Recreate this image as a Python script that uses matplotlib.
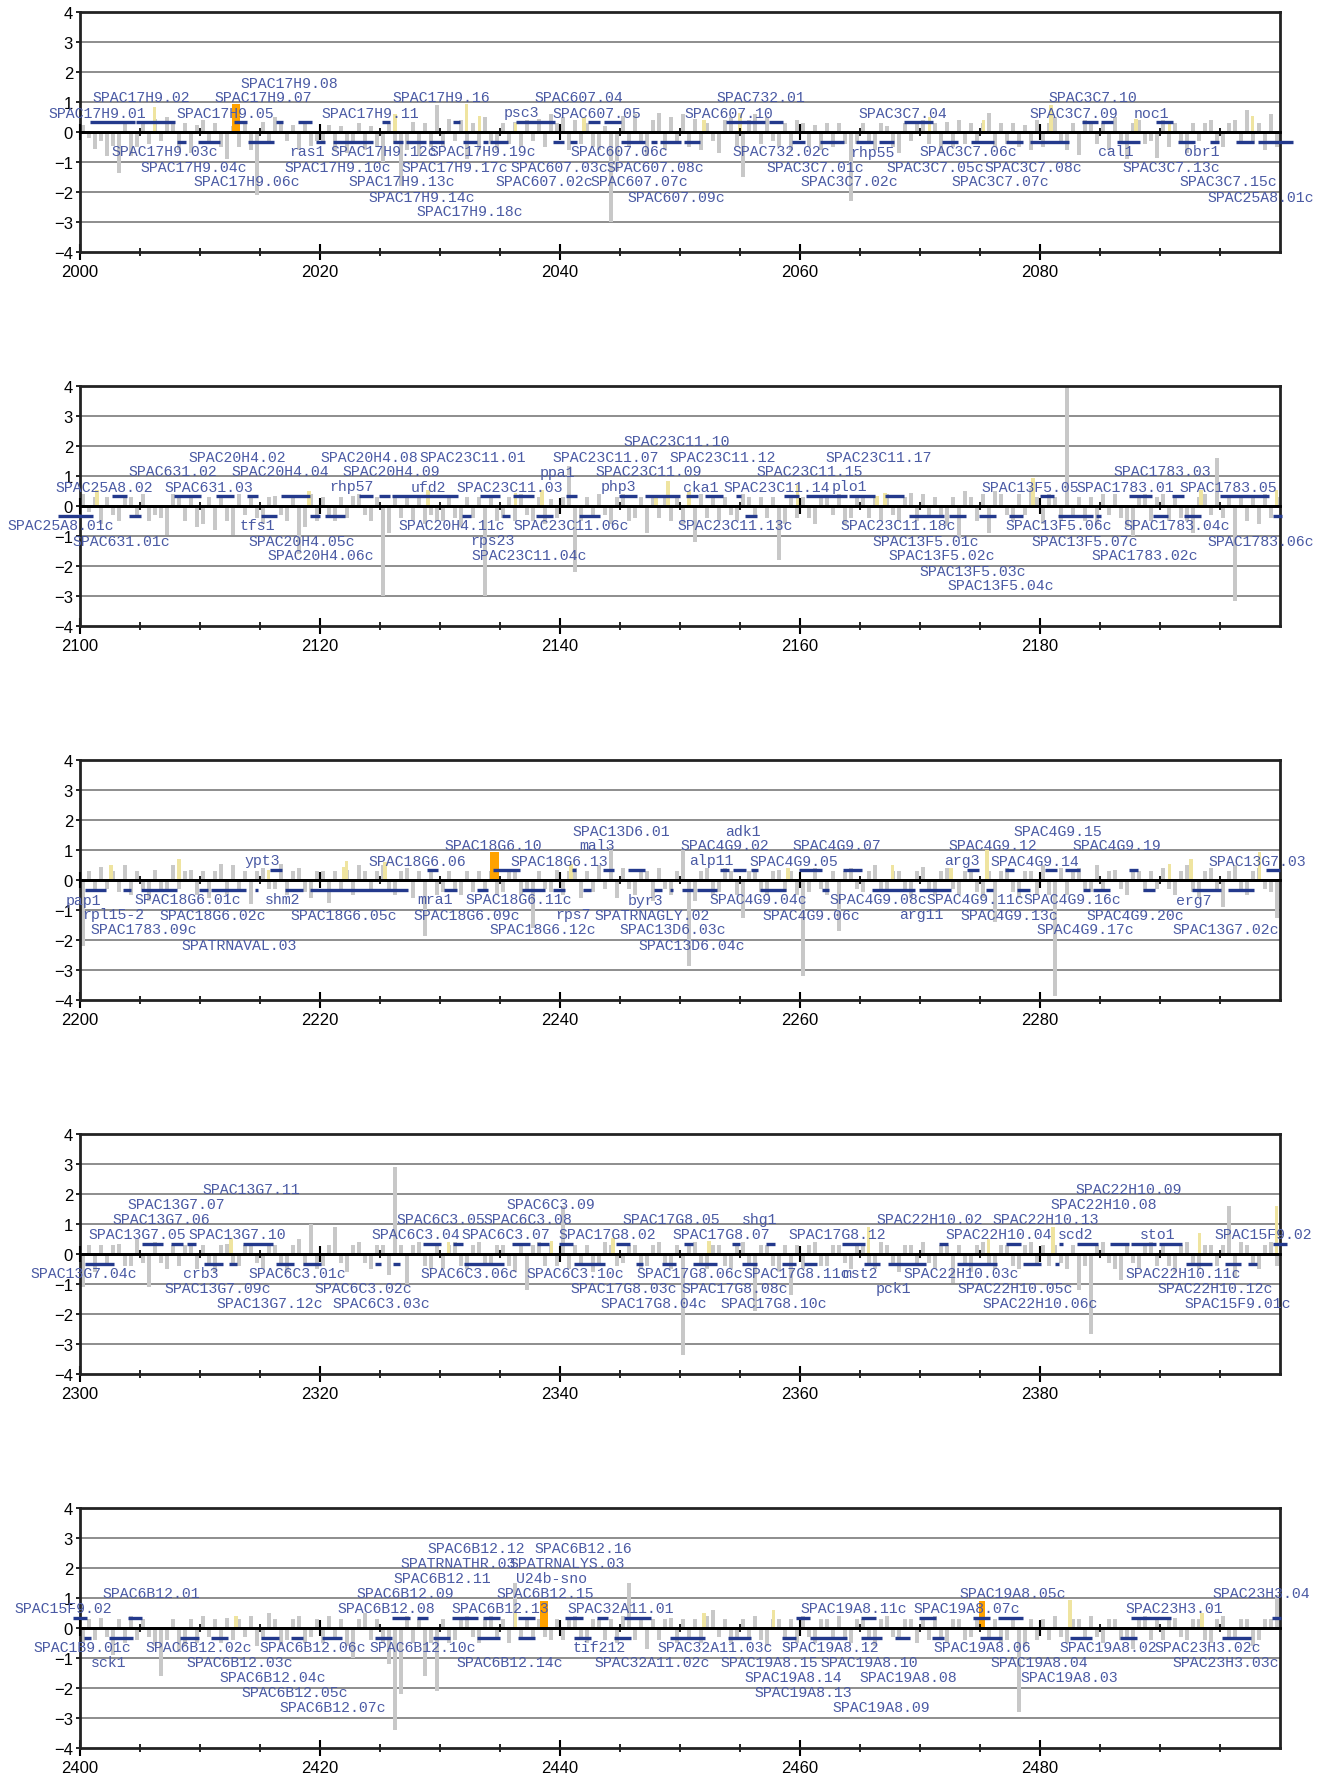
import numpy as np
import matplotlib
matplotlib.use("Agg")
import matplotlib.pyplot as plt
from matplotlib.ticker import MultipleLocator

# ---- panel 1 : 2000 - 2100 ----
p1_start = 2000
p1_signal = [
    0.25, -0.2, -0.55, -0.3, -0.8, -0.45, -1.35, 0.3, -0.8, -0.5, 0.35, -0.4, 0.45, -0.3, 0.5, 0.3, -0.6, 0.3, -0.7, 0.25,
    0.4, -0.35, 0.3, -0.5, -0.9, 0.2, -0.5, 0.3, -0.6, -2.1, 0.35, -0.4, 0.5, 0.3, -0.3, 0.25, -0.6, 0.3, -0.45, -0.3,
    -0.3, 0.25, -0.6, 0.2, -0.7, -0.4, 0.3, -0.6, 0.2, -0.5, -1.0, 0.3, -0.4, -1.8, -0.6, 0.35, -0.8, 0.3, -0.5, 0.9,
    -0.5, 0.45, -0.3, 0.4, -0.9, 0.3, -0.6, 0.5, -0.4, -0.6, 0.3, -0.4, 0.35, -0.5, 0.4, -0.3, 0.45, -0.5, 0.6, 0.3,
    0.5, -0.6, 0.4, -0.4, 0.3, -0.5, -0.6, 0.2, -3.0, -1.3, 0.55, -0.5, 0.6, -0.4, -0.8, 0.4, 0.65, -0.6, 0.5, -0.4,
    0.6, -0.5, 0.45, -0.6, 0.3, -0.3, -0.7, 0.4, 0.5, -0.5, -1.5, 0.4, 0.6, -0.4, 0.5, -0.3, -0.5, 0.3, -0.6, 0.4,
    0.3, -0.5, 0.25, -0.6, 0.3, -0.5, 0.3, -0.4, -2.3, -0.4, 0.3, -0.3, -0.6, 0.3, 0.2, -0.5, -0.7, 0.3, -0.3, 0.35,
    0.4, -0.4, 0.3, -0.7, 0.35, -0.5, 0.4, -0.4, 0.3, -0.3, 0.3, 0.65, -0.5, 0.3, -0.4, 0.3, -0.5, 0.25, -0.6, 0.4,
    -0.5, 0.3, 0.5, -0.4, -0.6, 0.3, -0.75, 0.4, 0.35, -0.4, 0.3, -0.6, 0.5, -0.3, -0.9, 0.3, 0.4, -0.4, -0.3, -0.85,
    0.4, -0.5, 0.3, -0.4, -0.7, 0.3, -0.3, 0.3, 0.4, -0.4, -0.5, 0.3, 0.4, -0.3, 0.75, -0.4, 0.3, -0.6, 0.6, -0.5,
]
p1_yellow_x = [2006.2, 2026.25, 2032.2, 2033.3, 2036.3, 2042.0, 2052.0, 2055.0, 2070.8, 2075.3, 2080.9, 2088.0, 2090.8, 2097.7]
p1_yellow_h = [0.85, 0.6, 0.95, 0.55, 0.3, 0.5, 0.4, 0.65, 0.5, 0.4, 0.9, 0.45, 0.35, 0.55]
p1_orange = [(2012.7, 2013.3, 0.95)]
p1_fwd = [(2000.8, 2004.6), (2004.7, 2007.9), (2012.8, 2013.9), (2016.3, 2016.9), (2018.2, 2019.3),
          (2025.2, 2025.8), (2031.1, 2031.7), (2036.3, 2039.6), (2042.3, 2043.3), (2043.7, 2045.1),
          (2053.8, 2057.1), (2057.4, 2058.6), (2068.7, 2071.1), (2083.5, 2084.8), (2085.1, 2086.1),
          (2089.7, 2091.1)]
p1_rev = [(2008.1, 2008.8), (2009.8, 2011.7), (2014.0, 2016.2), (2019.7, 2020.4), (2021.1, 2024.4),
          (2026.1, 2026.9), (2027.2, 2028.8), (2029.1, 2030.3), (2031.9, 2033.1), (2033.6, 2034.0),
          (2034.2, 2035.7), (2039.4, 2040.3), (2040.8, 2041.4), (2045.1, 2047.1), (2047.6, 2048.1),
          (2048.3, 2050.1), (2050.3, 2051.7), (2059.3, 2060.4), (2061.7, 2063.7), (2064.7, 2066.1),
          (2066.6, 2067.8), (2071.8, 2073.2), (2074.25, 2076.2), (2077.2, 2078.6), (2079.2, 2082.4),
          (2086.4, 2088.3), (2091.5, 2092.9), (2094.2, 2094.9), (2096.3, 2097.8), (2098.2, 2101.1)]
p1_labels = [
    ("SPAC17H9.01", 2001.4, 1), ("SPAC17H9.02", 2005.1, 2), ("SPAC17H9.05", 2012.1, 1),
    ("SPAC17H9.07", 2015.3, 2), ("SPAC17H9.08", 2017.4, 3), ("SPAC17H9.11", 2024.2, 1),
    ("SPAC17H9.16", 2030.1, 2), ("psc3", 2036.8, 1), ("SPAC607.04", 2041.6, 2),
    ("SPAC607.05", 2043.1, 1), ("SPAC607.10", 2054.1, 1), ("SPAC732.01", 2056.7, 2),
    ("SPAC3C7.04", 2068.6, 1), ("SPAC3C7.09", 2082.8, 1), ("SPAC3C7.10", 2084.4, 2),
    ("noc1", 2089.3, 1),
    ("SPAC17H9.03c", 2007.1, -1), ("SPAC17H9.04c", 2009.5, -2), ("SPAC17H9.06c", 2013.9, -3),
    ("ras1", 2018.9, -1), ("SPAC17H9.12c", 2025.3, -1), ("SPAC17H9.10c", 2021.5, -2),
    ("SPAC17H9.13c", 2026.8, -3), ("SPAC17H9.14c", 2028.5, -4), ("SPAC17H9.18c", 2032.5, -5),
    ("SPAC17H9.17c", 2031.25, -2), ("SPAC17H9.19c", 2033.6, -1), ("SPAC607.03c", 2039.9, -2),
    ("SPAC607.02c", 2038.7, -3), ("SPAC607.06c", 2044.9, -1), ("SPAC607.08c", 2047.9, -2),
    ("SPAC607.07c", 2046.6, -3), ("SPAC607.09c", 2049.7, -4), ("SPAC732.02c", 2058.4, -1),
    ("SPAC3C7.01c", 2061.3, -2), ("SPAC3C7.02c", 2064.1, -3), ("rhp55", 2066.0, -1),
    ("SPAC3C7.06c", 2074.0, -1), ("SPAC3C7.05c", 2071.25, -2), ("SPAC3C7.08c", 2079.4, -2),
    ("SPAC3C7.07c", 2076.7, -3), ("cal1", 2086.3, -1), ("SPAC3C7.13c", 2090.9, -2),
    ("obr1", 2093.5, -1), ("SPAC3C7.15c", 2095.7, -3), ("SPAC25A8.01c", 2098.4, -4),
]

# ---- panel 2 : 2100 - 2200 ----
p2_start = 2100
p2_signal = [
    0.4, -0.2, 0.3, -0.6, 0.3, -0.3, -0.5, 0.35, 0.3, -0.4, 0.4, -0.5, -0.3, -0.4, -0.95, 0.4, 0.3, -0.5, 0.3, -0.7,
    -0.6, 0.3, -0.8, 0.3, -0.5, -0.95, 0.4, -0.3, 0.3, -0.4, -0.6, 0.3, 0.35, -0.3, -0.5, 0.3, -1.6, -0.7, 0.4, -0.5,
    0.3, -0.4, -0.5, 0.3, -0.4, 0.35, 0.4, -0.3, -0.5, 0.3, -3.0, -0.9, 0.3, -0.4, 0.35, -0.5, 0.3, -0.6, -0.3, -0.5,
    -0.5, 0.3, -0.4, -0.7, 0.3, -0.4, 0.3, -3.0, 0.3, -0.5, -0.4, 0.3, -0.5, 0.4, -0.3, -0.5, 0.3, -0.6, 0.25, -0.4,
    0.3, 1.35, -2.2, -0.5, 0.3, -0.4, 0.4, -0.3, -0.6, 0.3, 0.4, -0.5, -0.4, 0.3, -0.9, 0.3, -0.4, 0.3, -0.5, 0.3,
    -0.6, 0.3, -1.2, 0.4, -0.4, 0.3, -0.5, 0.3, -0.3, -0.5, 0.4, 0.3, -0.4, 0.3, -0.4, 0.3, -1.8, -0.6, 0.3, -0.4,
    0.3, -0.4, -0.6, 0.3, 0.3, -0.3, 0.4, -0.6, -0.4, 0.3, 0.35, -0.4, 0.3, -0.5, 0.4, -0.3, -0.5, 0.3, 0.45, -0.5,
    0.4, -0.4, 0.3, -0.4, -0.65, 0.3, -1.05, 0.5, 0.3, -0.5, 0.4, -0.9, 0.5, 0.4, -0.3, -0.5, 0.4, -0.3, 0.6, 0.3,
    -0.6, 0.4, 0.3, -0.5, 4.1, -0.4, 0.3, -0.5, 0.3, -0.6, 0.4, -0.3, 0.4, -0.4, -0.7, -1.0, 0.3, 0.4, -0.5, 0.3,
    0.4, -0.5, 0.3, -0.4, -0.5, -0.9, 0.3, 0.4, -0.3, 1.6, -0.4, 0.3, -3.15, 0.3, -0.5, 0.3, -0.6, 0.4, -0.4, 0.3,
]
p2_yellow_x = [2101.4, 2119.1, 2129.0, 2136.3, 2138.5, 2148.0, 2149.0, 2150.75, 2159.8, 2166.4, 2167.1, 2179.4, 2193.4, 2199.7]
p2_yellow_h = [0.55, 0.5, 0.55, 0.45, 0.55, 0.35, 0.85, 0.5, 0.7, 0.35, 0.45, 0.95, 0.55, 0.55]
p2_orange = []
p2_fwd = [(2102.7, 2103.9), (2107.8, 2110.1), (2111.3, 2112.8), (2113.9, 2114.8), (2116.75, 2119.2),
          (2123.25, 2124.4), (2124.9, 2125.8), (2126.0, 2131.5), (2133.3, 2135.0), (2136.1, 2137.8),
          (2140.5, 2141.4), (2144.9, 2146.4), (2147.1, 2150.0), (2150.5, 2151.5), (2152.1, 2153.6),
          (2154.7, 2155.1), (2158.7, 2159.9), (2160.5, 2163.9), (2164.1, 2166.25), (2167.1, 2168.7),
          (2180.0, 2181.2), (2187.4, 2189.3), (2191.0, 2192.0), (2195.0, 2199.1)]
p2_rev = [(2098.2, 2101.05), (2104.1, 2105.1), (2115.1, 2116.4), (2119.2, 2120.0), (2120.4, 2122.1),
          (2131.8, 2132.6), (2135.2, 2135.8), (2138.0, 2139.45), (2141.6, 2143.3), (2155.4, 2156.4),
          (2169.1, 2172.0), (2172.4, 2173.8), (2174.9, 2176.3), (2177.4, 2178.6), (2181.5, 2184.4),
          (2184.7, 2185.1), (2189.4, 2190.7), (2192.0, 2193.4), (2199.4, 2200.2)]
p2_labels = [
    ("SPAC25A8.02", 2102.0, 1), ("SPAC631.02", 2107.7, 2), ("SPAC631.03", 2110.75, 1),
    ("SPAC20H4.02", 2113.1, 3), ("SPAC20H4.04", 2116.7, 2), ("rhp57", 2122.6, 1),
    ("SPAC20H4.08", 2124.1, 3), ("SPAC20H4.09", 2125.9, 2), ("ufd2", 2129.0, 1),
    ("SPAC23C11.01", 2132.7, 3), ("SPAC23C11.03", 2135.8, 1), ("ppa1", 2139.8, 2),
    ("SPAC23C11.07", 2143.8, 3), ("php3", 2144.9, 1), ("SPAC23C11.09", 2147.4, 2),
    ("SPAC23C11.10", 2149.75, 4), ("cka1", 2151.75, 1), ("SPAC23C11.12", 2153.6, 3),
    ("SPAC23C11.14", 2158.1, 1), ("SPAC23C11.15", 2160.8, 2), ("plo1", 2164.1, 1),
    ("SPAC23C11.17", 2166.6, 3), ("SPAC13F5.05", 2179.2, 1), ("SPAC1783.01", 2187.1, 1),
    ("SPAC1783.03", 2190.2, 2), ("SPAC1783.05", 2195.7, 1),
    ("SPAC25A8.01c", 2098.4, -1), ("SPAC631.01c", 2103.4, -2), ("tfs1", 2114.75, -1),
    ("SPAC20H4.05c", 2118.5, -2), ("SPAC20H4.06c", 2120.1, -3), ("SPAC20H4.11c", 2131.0, -1),
    ("rps23", 2134.4, -2), ("SPAC23C11.04c", 2137.4, -3), ("SPAC23C11.06c", 2140.9, -1),
    ("SPAC23C11.13c", 2154.6, -1), ("SPAC23C11.18c", 2168.2, -1), ("SPAC13F5.01c", 2170.5, -2),
    ("SPAC13F5.02c", 2171.8, -3), ("SPAC13F5.03c", 2174.4, -4), ("SPAC13F5.04c", 2176.7, -5),
    ("SPAC13F5.06c", 2181.6, -1), ("SPAC13F5.07c", 2183.75, -2), ("SPAC1783.02c", 2188.75, -3),
    ("SPAC1783.04c", 2191.4, -1), ("SPAC1783.06c", 2198.4, -2),
]

# ---- panel 3 : 2200 - 2300 ----
p3_start = 2200
p3_signal = [
    -2.2, 0.3, -0.4, 0.45, -0.3, 0.3, -0.4, 0.5, -0.5, 0.3, -0.3, -0.7, 0.35, -0.4, -0.4, 0.5, -0.3, 0.3, 0.35, -0.5,
    0.3, -0.6, 0.3, 0.55, -0.5, 0.5, -0.4, 0.3, -0.8, 0.3, 0.4, -0.3, -0.3, 0.55, -0.5, 0.3, 0.4, -0.4, -0.6, 0.3,
    0.3, -0.75, 0.3, -0.4, 0.35, -0.5, 0.5, 0.3, -0.4, 0.3, 0.5, -0.3, -0.5, 0.3, 0.4, -0.6, 0.3, -1.85, 0.3, -0.5,
    -0.4, 0.3, -0.3, -0.5, 0.3, -0.4, 0.3, -0.3, 0.3, -0.5, -0.4, 0.3, 0.3, -0.5, -0.3, -1.6, 0.3, -0.3, -0.4, 0.35,
    -0.5, 0.3, 0.4, -0.6, 0.3, -0.4, 0.5, -0.3, 1.1, -0.6, 0.4, -0.3, -0.5, 0.3, 0.3, -0.7, 0.4, -0.3, -0.5, 0.3,
    1.0, -2.85, -0.7, 0.3, 0.4, -0.5, -0.4, 0.4, 0.3, -0.5, -1.25, 0.3, 0.3, -0.4, -0.5, 0.3, 0.35, -0.4, 0.3, -0.5,
    -3.2, -0.4, 0.4, -0.3, -0.5, 0.3, -1.7, 0.3, 0.4, -0.3, -0.4, 0.3, 0.5, -0.3, -0.4, 0.3, 0.3, -0.4, -0.6, 0.3,
    0.45, -0.4, -0.5, 0.3, 0.4, -0.3, -0.5, 0.3, 0.3, -0.4, -0.6, 0.3, -1.4, 0.3, 0.4, -0.4, -0.6, 0.3, 0.3, -0.5,
    0.5, -0.5, -3.85, 0.4, -0.5, 0.3, 0.4, -0.3, -0.4, 0.5, -0.4, 0.3, 0.35, -0.3, -0.5, 0.3, 0.3, -0.4, 0.3, -0.3,
    0.4, -0.3, -0.5, 0.3, 0.5, -0.4, -0.6, 0.3, 0.4, -0.3, -0.9, 0.3, 0.5, -0.4, -0.5, 0.3, 0.4, -0.3, -0.4, -1.25,
]
p3_yellow_x = [2202.6, 2208.25, 2215.7, 2222.0, 2222.2, 2225.4, 2240.9, 2259.0, 2267.7, 2272.6, 2275.6, 2290.8, 2292.6, 2298.3]
p3_yellow_h = [0.5, 0.7, 0.35, 0.45, 0.65, 0.6, 0.55, 0.4, 0.5, 0.4, 1.0, 0.55, 0.7, 0.95]
p3_orange = [(2234.2, 2234.9, 0.95)]
p3_fwd = [(2215.8, 2216.8), (2228.9, 2229.8), (2234.45, 2236.7), (2241.0, 2241.3), (2243.55, 2244.5),
          (2245.7, 2247.1), (2253.3, 2254.1), (2254.4, 2255.5), (2255.9, 2256.5), (2259.9, 2261.8),
          (2263.6, 2265.2), (2273.9, 2274.9), (2277.1, 2277.8), (2280.4, 2281.4), (2282.1, 2283.3),
          (2287.4, 2288.2), (2298.8, 2300.0)]
p3_rev = [(2200.4, 2202.2), (2203.6, 2204.25), (2205.1, 2208.05), (2209.9, 2210.7), (2210.9, 2213.8),
          (2214.6, 2214.8), (2217.1, 2218.55), (2219.2, 2227.3), (2230.3, 2231.4), (2233.05, 2234.0),
          (2236.8, 2238.75), (2239.45, 2240.4), (2241.9, 2242.6), (2247.8, 2248.5), (2249.2, 2249.4),
          (2250.2, 2251.1), (2251.45, 2253.1), (2256.7, 2258.8), (2261.8, 2262.4), (2266.0, 2269.6),
          (2269.9, 2272.6), (2275.5, 2276.1), (2278.05, 2279.2), (2283.55, 2284.2), (2284.4, 2285.8),
          (2288.6, 2289.6), (2292.7, 2295.05), (2295.7, 2297.8)]
p3_labels = [
    ("ypt3", 2215.2, 1), ("SPAC18G6.06", 2228.1, 1), ("SPAC18G6.10", 2234.4, 2),
    ("SPAC18G6.13", 2239.9, 1), ("mal3", 2243.1, 2), ("SPAC13D6.01", 2245.1, 3),
    ("alp11", 2252.6, 1), ("SPAC4G9.02", 2253.75, 2), ("adk1", 2255.2, 3),
    ("SPAC4G9.05", 2259.5, 1), ("SPAC4G9.07", 2263.1, 2), ("arg3", 2273.5, 1),
    ("SPAC4G9.12", 2276.1, 2), ("SPAC4G9.14", 2279.6, 1), ("SPAC4G9.15", 2281.5, 3),
    ("SPAC4G9.19", 2286.4, 2), ("SPAC13G7.03", 2298.1, 1),
    ("pap1", 2200.3, -1), ("rpl15-2", 2202.8, -2), ("SPAC1783.09c", 2205.3, -3),
    ("SPAC18G6.01c", 2209.0, -1), ("SPAC18G6.02c", 2211.1, -2), ("SPATRNAVAL.03", 2213.3, -4),
    ("shm2", 2216.9, -1), ("SPAC18G6.05c", 2222.0, -2), ("mra1", 2229.6, -1),
    ("SPAC18G6.09c", 2232.2, -2), ("SPAC18G6.11c", 2236.6, -1), ("SPAC18G6.12c", 2238.6, -3),
    ("rps7", 2241.1, -2), ("byr3", 2247.1, -1), ("SPATRNAGLY.02", 2247.7, -2),
    ("SPAC13D6.03c", 2249.4, -3), ("SPAC13D6.04c", 2251.0, -4), ("SPAC4G9.04c", 2256.5, -1),
    ("SPAC4G9.06c", 2260.9, -2), ("SPAC4G9.08c", 2266.5, -1), ("arg11", 2270.1, -2),
    ("SPAC4G9.11c", 2274.6, -1), ("SPAC4G9.13c", 2277.4, -2), ("SPAC4G9.16c", 2282.7, -1),
    ("SPAC4G9.17c", 2283.8, -3), ("SPAC4G9.20c", 2287.9, -2), ("erg7", 2292.8, -1),
    ("SPAC13G7.02c", 2295.5, -3),
]

# ---- panel 4 : 2300 - 2400 ----
p4_start = 2300
p4_signal = [
    -1.1, 0.3, -0.6, 0.3, -0.3, 0.3, 0.35, -0.4, -0.4, 0.5, -0.3, -1.1, 0.4, -0.3, -0.5, 0.3, -0.4, 0.3, 0.3, -0.5,
    0.3, -0.4, -0.6, 0.3, 0.35, -0.3, -0.4, 0.3, 0.3, -0.3, -0.5, 0.3, 0.3, -0.4, -0.6, 0.3, 0.5, -0.4, 1.0, -0.5,
    -0.4, 0.3, 0.9, -0.3, -0.6, 0.3, 0.4, -0.3, -0.5, 0.3, 0.3, -0.7, 2.9, 0.3, -1.0, 0.3, 0.4, -0.4, -0.5, 0.3,
    -0.5, 0.3, 0.4, -0.4, -0.5, 0.3, 0.4, -0.3, -0.4, 0.3, 0.3, -0.4, -0.6, 0.3, -1.2, 0.3, 0.4, -0.4, 0.3, -0.4,
    1.6, -0.5, 0.3, -0.3, 0.3, -0.6, -0.4, 0.4, 0.3, -0.4, -0.3, 0.3, 0.3, -0.5, -0.4, 0.3, 0.4, -0.3, -0.5, 0.3,
    -3.35, 0.3, 0.4, -0.4, -0.5, 0.3, 0.3, -0.4, -0.5, 0.3, 0.4, -0.3, -1.9, 0.3, 0.3, -0.4, -0.6, 0.3, -1.35, 0.3,
    -0.5, 0.3, 0.4, -0.4, -0.4, 0.3, 0.3, -0.3, -0.5, 0.3, 0.3, -0.4, -0.5, 0.4, 0.3, -0.4, -0.6, 0.3, 0.3, -0.4,
    0.4, -0.3, -0.5, 0.3, 0.3, -0.95, 0.3, -0.4, -0.6, 0.3, 0.4, -0.3, -0.5, 0.3, 0.3, -0.4, -0.5, 0.3, 0.4, -0.4,
    0.3, -0.4, 0.3, -0.3, -0.5, 0.3, -1.2, -0.4, -2.65, 0.3, 0.4, -0.3, -0.5, -0.85, 0.3, -0.3, -0.5, 0.3, 0.4, -0.4,
    0.3, -0.4, -0.6, 0.3, 0.4, -0.3, -0.5, 0.3, 0.3, -0.4, 0.3, 1.6, -0.8, 0.4, 0.3, -0.4, -0.5, 0.3, 0.4, -0.4,
]
p4_yellow_x = [2312.6, 2330.7, 2339.3, 2344.4, 2352.4, 2365.7, 2375.7, 2381.1, 2393.3, 2399.7]
p4_yellow_h = [0.55, 0.4, 0.45, 0.55, 0.45, 0.9, 0.5, 0.9, 0.7, 1.6]
p4_orange = []
p4_fwd = [(2305.2, 2306.9), (2307.6, 2308.55), (2308.95, 2309.7), (2313.6, 2316.1), (2328.6, 2330.1),
          (2331.05, 2331.9), (2336.0, 2337.5), (2338.1, 2339.1), (2339.9, 2341.1), (2344.7, 2345.8),
          (2350.3, 2351.1), (2354.3, 2355.0), (2357.2, 2357.9), (2363.5, 2365.4), (2371.6, 2372.3),
          (2377.2, 2378.4), (2381.6, 2381.9), (2383.1, 2384.8), (2385.8, 2387.4), (2387.6, 2389.7),
          (2389.9, 2391.8), (2399.4, 2400.6)]
p4_rev = [(2300.4, 2302.8), (2310.3, 2311.9), (2312.4, 2313.05), (2316.3, 2317.8), (2318.55, 2320.1),
          (2324.6, 2325.1), (2326.1, 2326.7), (2332.0, 2335.3), (2341.2, 2343.75), (2346.3, 2346.9),
          (2348.5, 2349.7), (2351.1, 2353.1), (2355.2, 2356.4), (2358.5, 2359.7), (2360.3, 2361.45),
          (2365.3, 2366.7), (2367.3, 2370.5), (2373.05, 2376.4), (2378.6, 2380.1), (2381.25, 2381.6),
          (2392.2, 2394.3), (2395.4, 2396.75), (2397.3, 2398.1)]
p4_labels = [
    ("SPAC13G7.05", 2304.8, 1), ("SPAC13G7.06", 2306.8, 2), ("SPAC13G7.07", 2308.0, 3),
    ("SPAC13G7.10", 2313.1, 1), ("SPAC13G7.11", 2314.3, 4), ("SPAC6C3.04", 2328.0, 1),
    ("SPAC6C3.05", 2330.1, 2), ("SPAC6C3.07", 2335.5, 1), ("SPAC6C3.08", 2337.3, 2),
    ("SPAC6C3.09", 2339.2, 3), ("SPAC17G8.02", 2343.9, 1), ("SPAC17G8.05", 2349.3, 2),
    ("SPAC17G8.07", 2353.4, 1), ("shg1", 2356.6, 2), ("SPAC17G8.12", 2363.1, 1),
    ("SPAC22H10.02", 2370.8, 2), ("SPAC22H10.04", 2376.6, 1), ("SPAC22H10.13", 2380.5, 2),
    ("scd2", 2383.0, 1), ("SPAC22H10.08", 2385.3, 3), ("SPAC22H10.09", 2387.4, 4),
    ("sto1", 2389.8, 1), ("SPAC15F9.02", 2398.6, 1),
    ("SPAC13G7.04c", 2300.3, -1), ("crb3", 2310.1, -1), ("SPAC13G7.09c", 2311.5, -2),
    ("SPAC13G7.12c", 2315.8, -3), ("SPAC6C3.01c", 2318.1, -1), ("SPAC6C3.02c", 2323.6, -2),
    ("SPAC6C3.03c", 2325.1, -3), ("SPAC6C3.06c", 2332.4, -1), ("SPAC6C3.10c", 2341.25, -1),
    ("SPAC17G8.03c", 2345.3, -2), ("SPAC17G8.04c", 2347.8, -3), ("SPAC17G8.06c", 2350.8, -1),
    ("SPAC17G8.08c", 2354.6, -2), ("SPAC17G8.10c", 2357.8, -3), ("SPAC17G8.11c", 2359.7, -1),
    ("mst2", 2365.0, -1), ("pck1", 2367.8, -2), ("SPAC22H10.03c", 2373.4, -1),
    ("SPAC22H10.05c", 2377.9, -2), ("SPAC22H10.06c", 2380.0, -3), ("SPAC22H10.11c", 2391.9, -1),
    ("SPAC22H10.12c", 2394.6, -2), ("SPAC15F9.01c", 2396.5, -3),
]

# ---- panel 5 : 2400 - 2500 ----
p5_start = 2400
p5_signal = [
    -0.5, 0.3, -0.4, 0.35, -0.3, -0.9, 0.3, -0.5, 0.4, -0.4, 0.3, -0.3, -0.6, -1.6, -0.4, 0.3, -0.8, -0.6, 0.3, -0.5,
    0.4, -0.3, 0.3, -0.5, 0.35, -0.4, 0.3, -0.3, 0.4, -0.6, -0.4, 0.5, 0.3, -0.6, -0.4, 0.3, 0.4, -0.5, -0.3, 0.3,
    -0.5, 0.4, -0.4, 0.3, -0.6, -1.0, 0.3, 0.5, -0.4, 0.3, -0.5, -1.2, -3.4, -2.2, 0.4, -0.5, 0.3, -1.6, -0.5, -2.1,
    0.3, -0.5, -0.4, 0.3, 0.4, -0.3, -0.5, 0.3, 0.4, -0.4, 0.3, -0.5, 1.5, -0.3, 0.3, -0.4, 0.3, -0.3, -0.4, 0.3,
    -0.4, 0.3, 0.4, -0.3, -0.5, 0.3, 0.3, -0.4, 0.3, -0.5, 0.4, 1.5, -0.4, 0.3, -0.7, 0.3, -0.4, 0.3, 0.35, -0.5,
    0.3, -0.4, 0.3, -0.5, 0.4, 0.6, -0.3, 0.3, -0.5, -0.4, 0.3, -0.3, 0.4, -0.4, -0.6, 0.3, 0.3, -0.4, 0.3, -0.5,
    0.4, -0.3, -0.5, 0.3, 0.3, -0.4, 0.4, -0.3, -0.5, 0.3, 0.3, -0.4, -0.6, 0.3, 0.4, -0.3, -0.4, 0.3, 0.3, -0.5,
    0.3, -0.4, 0.4, -0.3, -0.5, 0.3, 0.3, -0.4, -0.3, 0.3, 0.5, -0.4, 0.3, -0.5, -0.4, 0.3, -2.8, -0.6, 0.3, -0.4,
    0.3, -0.4, 0.4, -0.3, -0.5, 0.3, 0.3, -0.4, 0.4, -0.3, -0.5, 0.3, 0.3, -0.4, -0.3, -0.7, 0.3, 0.4, -0.4, 0.3,
    -0.4, 0.3, 0.35, -0.3, -0.4, 0.3, 0.3, -0.4, -0.5, 0.3, 0.4, -0.3, -0.3, 0.3, 0.3, -0.6, -0.4, 0.3, 0.3, 1.1,
]
p5_yellow_x = [2413.0, 2436.3, 2452.0, 2457.8, 2482.5, 2493.5]
p5_yellow_h = [0.4, 0.5, 0.5, 0.6, 0.95, 0.5]
p5_orange = [(2438.3, 2439.0, 0.9), (2474.9, 2475.4, 0.9)]
p5_fwd = [(2399.4, 2400.6), (2404.0, 2405.2), (2426.0, 2427.5), (2428.1, 2429.0), (2431.0, 2433.2),
          (2433.6, 2435.0), (2436.5, 2437.9), (2440.4, 2441.9), (2443.1, 2444.0), (2445.3, 2447.6),
          (2459.7, 2460.8), (2465.1, 2466.3), (2469.9, 2471.3), (2474.4, 2475.8), (2476.5, 2478.6),
          (2487.6, 2490.9), (2499.3, 2500.1)]
p5_rev = [(2400.35, 2400.9), (2402.4, 2404.4), (2408.3, 2409.9), (2410.9, 2412.3), (2415.1, 2416.6),
          (2417.6, 2418.6), (2420.2, 2421.8), (2424.6, 2426.0), (2429.4, 2430.8), (2433.1, 2435.0),
          (2436.5, 2437.9), (2441.2, 2442.6), (2444.5, 2445.9), (2449.2, 2452.1), (2454.0, 2455.9),
          (2458.5, 2459.7), (2460.8, 2463.9), (2465.1, 2466.8), (2467.9, 2469.2), (2471.0, 2472.0),
          (2475.0, 2476.8), (2482.5, 2484.3), (2486.7, 2488.1), (2495.2, 2497.6)]
p5_labels = [
    ("SPAC15F9.02", 2398.6, 1), ("SPAC6B12.01", 2405.9, 2), ("SPAC6B12.08", 2425.5, 1),
    ("SPAC6B12.09", 2427.1, 2), ("SPAC6B12.11", 2430.2, 3), ("SPATRNATHR.03", 2431.5, 4),
    ("SPAC6B12.12", 2433.0, 5), ("SPAC6B12.13", 2435.0, 1), ("SPAC6B12.15", 2438.8, 2),
    ("U24b-sno", 2439.3, 3), ("SPATRNALYS.03", 2440.6, 4), ("SPAC6B12.16", 2441.9, 5),
    ("SPAC32A11.01", 2445.1, 1), ("SPAC19A8.11c", 2464.5, 1), ("SPAC19A8.07c", 2473.9, 1),
    ("SPAC19A8.05c", 2477.7, 2), ("SPAC23H3.01", 2491.2, 1), ("SPAC23H3.04", 2498.4, 2),
    ("SPAC1B9.01c", 2400.2, -1), ("sck1", 2402.4, -2), ("SPAC6B12.02c", 2409.9, -1),
    ("SPAC6B12.03c", 2413.3, -2), ("SPAC6B12.04c", 2416.1, -3), ("SPAC6B12.05c", 2417.9, -4),
    ("SPAC6B12.06c", 2419.4, -1), ("SPAC6B12.07c", 2421.1, -5), ("SPAC6B12.10c", 2428.6, -1),
    ("SPAC6B12.14c", 2435.8, -2), ("tif212", 2443.3, -1), ("SPAC32A11.02c", 2447.7, -2),
    ("SPAC32A11.03c", 2452.9, -1), ("SPAC19A8.15", 2457.4, -2), ("SPAC19A8.14", 2459.4, -3),
    ("SPAC19A8.13", 2460.3, -4), ("SPAC19A8.12", 2462.5, -1), ("SPAC19A8.10", 2465.8, -2),
    ("SPAC19A8.09", 2466.8, -5), ("SPAC19A8.08", 2469.0, -3), ("SPAC19A8.06", 2475.2, -1),
    ("SPAC19A8.04", 2479.9, -2), ("SPAC19A8.03", 2482.4, -3), ("SPAC19A8.02", 2485.7, -1),
    ("SPAC23H3.02c", 2494.0, -1), ("SPAC23H3.03c", 2495.5, -2),
]

panels = [
    (p1_start, p1_signal, p1_yellow_x, p1_yellow_h, p1_orange, p1_fwd, p1_rev, p1_labels),
    (p2_start, p2_signal, p2_yellow_x, p2_yellow_h, p2_orange, p2_fwd, p2_rev, p2_labels),
    (p3_start, p3_signal, p3_yellow_x, p3_yellow_h, p3_orange, p3_fwd, p3_rev, p3_labels),
    (p4_start, p4_signal, p4_yellow_x, p4_yellow_h, p4_orange, p4_fwd, p4_rev, p4_labels),
    (p5_start, p5_signal, p5_yellow_x, p5_yellow_h, p5_orange, p5_fwd, p5_rev, p5_labels),
]

W, H = 1320, 1783
GRAY = '#c8c8c8'
YELLOW = '#efe4a0'
ORANGE = '#ffa200'
SEG = '#23398c'
LABEL = '#4a5aa4'

fig = plt.figure(figsize=(W / 100, H / 100), dpi=100)

for k, (start, signal, yx, yh, orange, fwd, rev, labels) in enumerate(panels):
    top = 13 + 374 * k
    ax = fig.add_axes([80 / W, 1 - (top + 240) / H, 1200 / W, 240 / H])
    ax.set_xlim(start, start + 100)
    ax.set_ylim(-4, 4)

    # horizontal grid
    for g in [-3, -2, -1, 1, 2, 3]:
        ax.axhline(g, color='#858585', lw=1.3, zorder=0.5)

    # signal bars
    xs = start + 0.25 + 0.5 * np.arange(len(signal))
    ax.bar(xs, signal, width=0.4, color=GRAY, linewidth=0, zorder=1)
    ax.bar(yx, yh, width=0.3, color=YELLOW, linewidth=0, zorder=1.2)
    for s, e, h in orange:
        ax.bar(s, h, width=e - s, align='edge', color=ORANGE, linewidth=0, zorder=1.3)

    ax.axhline(0, color='black', lw=2, zorder=2)

    # genes
    ax.hlines([0.33] * len(fwd), [f[0] for f in fwd], [f[1] for f in fwd],
              colors=SEG, lw=2.4, zorder=3, clip_on=False)
    ax.hlines([-0.33] * len(rev), [r[0] for r in rev], [r[1] for r in rev],
              colors=SEG, lw=2.4, zorder=3, clip_on=False)
    for name, lx, row in labels:
        ly = 0.65 + 0.5 * (row - 1) if row > 0 else -0.65 - 0.5 * (-row - 1)
        ax.text(lx, ly, name, ha='center', va='center', fontsize=10.7,
                family='Liberation Mono', color=LABEL, zorder=4, clip_on=False)

    # axes styling
    for sp in ax.spines.values():
        sp.set_linewidth(2)
        sp.set_color('#222222')
    major = np.arange(start, start + 100, 20)
    minor = np.arange(start, start + 100, 5)
    ax.set_xticks(major)
    ax.set_xticks(minor, minor=True)
    ax.yaxis.set_major_locator(MultipleLocator(1))
    ax.tick_params(axis='x', which='major', direction='inout', length=11, width=1.5,
                   labelsize=12, pad=3)
    ax.tick_params(axis='x', which='minor', direction='inout', length=6, width=1.2)
    ax.tick_params(axis='y', which='major', direction='out', length=3, width=1.2,
                   labelsize=12, pad=2)
    for t in ax.get_xticklabels() + ax.get_yticklabels():
        t.set_family('Liberation Sans')

    # tick marks along the zero line
    sec = ax.secondary_xaxis(0.5)
    sec.set_xticks(major)
    sec.set_xticks(minor, minor=True)
    sec.tick_params(axis='x', which='major', direction='inout', length=11, width=1.5,
                    labeltop=False, labelbottom=False)
    sec.tick_params(axis='x', which='minor', direction='inout', length=6, width=1.2)
    sec.spines['top'].set_linewidth(2)
    sec.set_zorder(5)

fig.savefig('out.png', dpi=100)
